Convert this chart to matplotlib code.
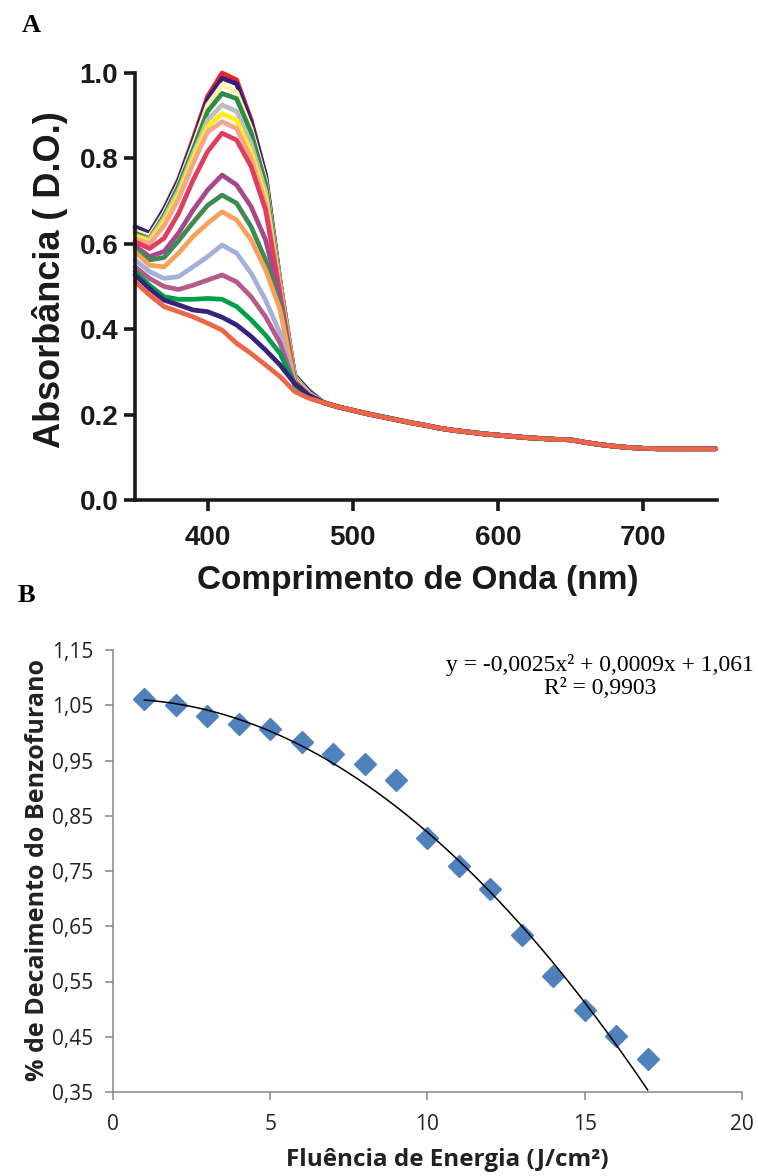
import numpy as np
import matplotlib
matplotlib.use('Agg')
import matplotlib.pyplot as plt

# --- Panel A: absorbance spectra (one curve per irradiation step) ---
head_nm = [350, 360, 370, 380, 390, 400, 410, 420, 430, 440, 450, 460, 470]
tail_nm = [480, 490, 500, 510, 520, 530, 540, 550, 560, 570, 580, 590, 600, 610,
           620, 630, 640, 650, 660, 670, 680, 690, 700, 710, 720, 730, 740, 750]
tail_abs = [0.228, 0.218, 0.210, 0.202, 0.195, 0.188, 0.181, 0.175, 0.168, 0.163,
            0.159, 0.155, 0.152, 0.149, 0.146, 0.144, 0.142, 0.141, 0.135, 0.130,
            0.126, 0.123, 0.121, 0.120, 0.120, 0.120, 0.120, 0.120]

abs_red = [0.635, 0.622, 0.680, 0.750, 0.845, 0.945, 1.000, 0.984, 0.890, 0.760, 0.510, 0.290, 0.250]
abs_purple = [0.640, 0.625, 0.680, 0.748, 0.840, 0.938, 0.988, 0.975, 0.885, 0.760, 0.510, 0.292, 0.255]
abs_ltyellow = [0.630, 0.618, 0.672, 0.740, 0.830, 0.925, 0.972, 0.955, 0.870, 0.748, 0.505, 0.288, 0.250]
abs_green = [0.625, 0.612, 0.666, 0.735, 0.820, 0.910, 0.952, 0.940, 0.860, 0.740, 0.500, 0.285, 0.248]
abs_gray = [0.620, 0.610, 0.660, 0.725, 0.810, 0.890, 0.925, 0.910, 0.835, 0.722, 0.495, 0.283, 0.247]
abs_yellow = [0.618, 0.605, 0.652, 0.715, 0.800, 0.875, 0.905, 0.890, 0.815, 0.708, 0.492, 0.282, 0.246]
abs_salmon = [0.612, 0.600, 0.642, 0.705, 0.788, 0.862, 0.886, 0.870, 0.800, 0.695, 0.488, 0.280, 0.245]
abs_redpink = [0.605, 0.589, 0.613, 0.671, 0.749, 0.816, 0.859, 0.843, 0.781, 0.679, 0.482, 0.278, 0.244]
abs_magenta = [0.595, 0.570, 0.582, 0.625, 0.679, 0.726, 0.761, 0.738, 0.687, 0.609, 0.470, 0.276, 0.243]
abs_green2 = [0.589, 0.562, 0.568, 0.607, 0.650, 0.690, 0.714, 0.695, 0.640, 0.562, 0.455, 0.275, 0.242]
abs_orange = [0.581, 0.550, 0.546, 0.578, 0.617, 0.648, 0.675, 0.656, 0.609, 0.539, 0.445, 0.274, 0.241]
abs_ltblue = [0.562, 0.535, 0.519, 0.523, 0.546, 0.570, 0.597, 0.578, 0.531, 0.468, 0.390, 0.272, 0.240]
abs_mauve = [0.546, 0.519, 0.500, 0.493, 0.503, 0.515, 0.527, 0.511, 0.476, 0.429, 0.367, 0.270, 0.240]
abs_green3 = [0.535, 0.503, 0.476, 0.470, 0.470, 0.472, 0.470, 0.453, 0.422, 0.386, 0.343, 0.270, 0.240]
abs_purple2 = [0.527, 0.495, 0.468, 0.457, 0.445, 0.441, 0.428, 0.410, 0.383, 0.351, 0.316, 0.273, 0.245]
abs_orangered = [0.511, 0.480, 0.453, 0.441, 0.429, 0.414, 0.398, 0.367, 0.343, 0.316, 0.289, 0.254, 0.238]

spectra = [abs_red, abs_purple, abs_ltyellow, abs_green, abs_gray, abs_yellow, abs_salmon,
           abs_redpink, abs_magenta, abs_green2, abs_orange, abs_ltblue, abs_mauve,
           abs_green3, abs_purple2, abs_orangered]
spectra_colors = ['#E5262B', '#37207A', '#FDF2A6', '#2E8B4A', '#BDBDBD', '#FFEC1A', '#F4A68C',
                  '#E03E5C', '#A8478A', '#3E8A52', '#F7A15B', '#A5B0DA', '#B65A8C',
                  '#00A04A', '#36237A', '#EE6548']

# --- Panel B: benzofuran decay vs fluence ---
fluence = [1, 2, 3, 4, 5, 6, 7, 8, 9, 10, 11, 12, 13, 14, 15, 16, 17]
decay = [1.062, 1.050, 1.031, 1.016, 1.007, 0.984, 0.962, 0.943, 0.915, 0.809,
         0.759, 0.717, 0.634, 0.560, 0.499, 0.451, 0.410]
fit_coef = [-0.0025, 0.0009, 1.061]  # y = a x^2 + b x + c, as printed on the chart

W, H = 758, 1176
fig = plt.figure(figsize=(W / 100, H / 100), dpi=100)

# ---------------- Panel A ----------------
axA = fig.add_axes([135 / W, 1 - 500 / H, 582 / W, 427 / H])
wl = np.array(head_nm + tail_nm)
for vals, col in zip(spectra, spectra_colors):
    axA.plot(wl, list(vals) + tail_abs, color=col, lw=3.4, clip_on=False,
             solid_joinstyle='round', solid_capstyle='round')
axA.set_xlim(350, 751)
axA.set_ylim(0, 1.0)
axA.set_xticks([400, 500, 600, 700])
axA.set_yticks([0.0, 0.2, 0.4, 0.6, 0.8, 1.0])
axA.set_yticklabels(['0.0', '0.2', '0.4', '0.6', '0.8', '1.0'])
for s in ['top', 'right']:
    axA.spines[s].set_visible(False)
for s in ['left', 'bottom']:
    axA.spines[s].set_linewidth(2.6)
    axA.spines[s].set_color('#1a1a1a')
axA.tick_params(direction='out', length=8, width=2.6, color='#1a1a1a')
axA.tick_params(axis='x', pad=10)
axA.tick_params(axis='y', pad=4)
for lab in axA.get_xticklabels() + axA.get_yticklabels():
    lab.set_fontfamily('Liberation Sans')
    lab.set_fontweight('bold')
    lab.set_fontsize(20)
    lab.set_color('#1a1a1a')
fig.text(50 / W, 1 - 280 / H, 'Absorbância ( D.O.)', rotation=90, ha='center', va='center',
         fontsize=26, fontweight='bold', family='Liberation Sans', color='#1a1a1a')
fig.text(418 / W, 1 - 580 / H, 'Comprimento de Onda (nm)', ha='center', va='center',
         fontsize=24, fontweight='bold', family='Liberation Sans', color='#1a1a1a')
fig.text(22 / W, 1 - 25 / H, 'A', ha='left', va='center', fontsize=19,
         fontweight='bold', family='Liberation Serif')

# ---------------- Panel B ----------------
axB = fig.add_axes([113 / W, 1 - 1092 / H, 629 / W, 442 / H])
xf = np.linspace(fluence[0], fluence[-1], 200)
axB.plot(xf, np.polyval(fit_coef, xf), color='black', lw=1.1, zorder=3)
axB.plot(fluence, decay, linestyle='none', marker='D', ms=11, color='#4F81BD',
         markeredgecolor='#4F81BD', zorder=2, clip_on=False)
axB.set_xlim(0, 20)
axB.set_ylim(0.35, 1.15)
axB.set_xticks([0, 5, 10, 15, 20])
yt = [0.35, 0.45, 0.55, 0.65, 0.75, 0.85, 0.95, 1.05, 1.15]
axB.set_yticks(yt)
axB.set_yticklabels([f'{v:.2f}'.replace('.', ',') for v in yt])
for s in ['top', 'right']:
    axB.spines[s].set_visible(False)
for s in ['left', 'bottom']:
    axB.spines[s].set_linewidth(1.1)
    axB.spines[s].set_color('#868686')
axB.tick_params(direction='out', length=6, width=1.1, color='#868686')
axB.tick_params(axis='x', pad=10)
axB.tick_params(axis='y', pad=8)
for lab in axB.get_xticklabels() + axB.get_yticklabels():
    lab.set_fontfamily('Open Sans')
    lab.set_fontsize(15)
    lab.set_color('#222222')
fig.text(38 / W, 1 - 870 / H, '% de Decaimento do Benzofurano', rotation=90, ha='center',
         va='center', fontsize=18, fontweight='bold', family='Open Sans', color='#222222')
fig.text(447 / W, 1 - 1160 / H, 'Fluência de Energia (J/cm²)', ha='center', va='center',
         fontsize=17.5, fontweight='bold', family='Open Sans', color='#222222')
fig.text(600 / W, 1 - 665 / H, 'y = -0,0025x² + 0,0009x + 1,061', ha='center', va='center',
         fontsize=17, family='Liberation Serif')
fig.text(600 / W, 1 - 689 / H, 'R² = 0,9903', ha='center', va='center',
         fontsize=17, family='Liberation Serif')
fig.text(18 / W, 1 - 596 / H, 'B', ha='left', va='center', fontsize=19,
         fontweight='bold', family='Liberation Serif')

fig.savefig('out.png', dpi=100)
